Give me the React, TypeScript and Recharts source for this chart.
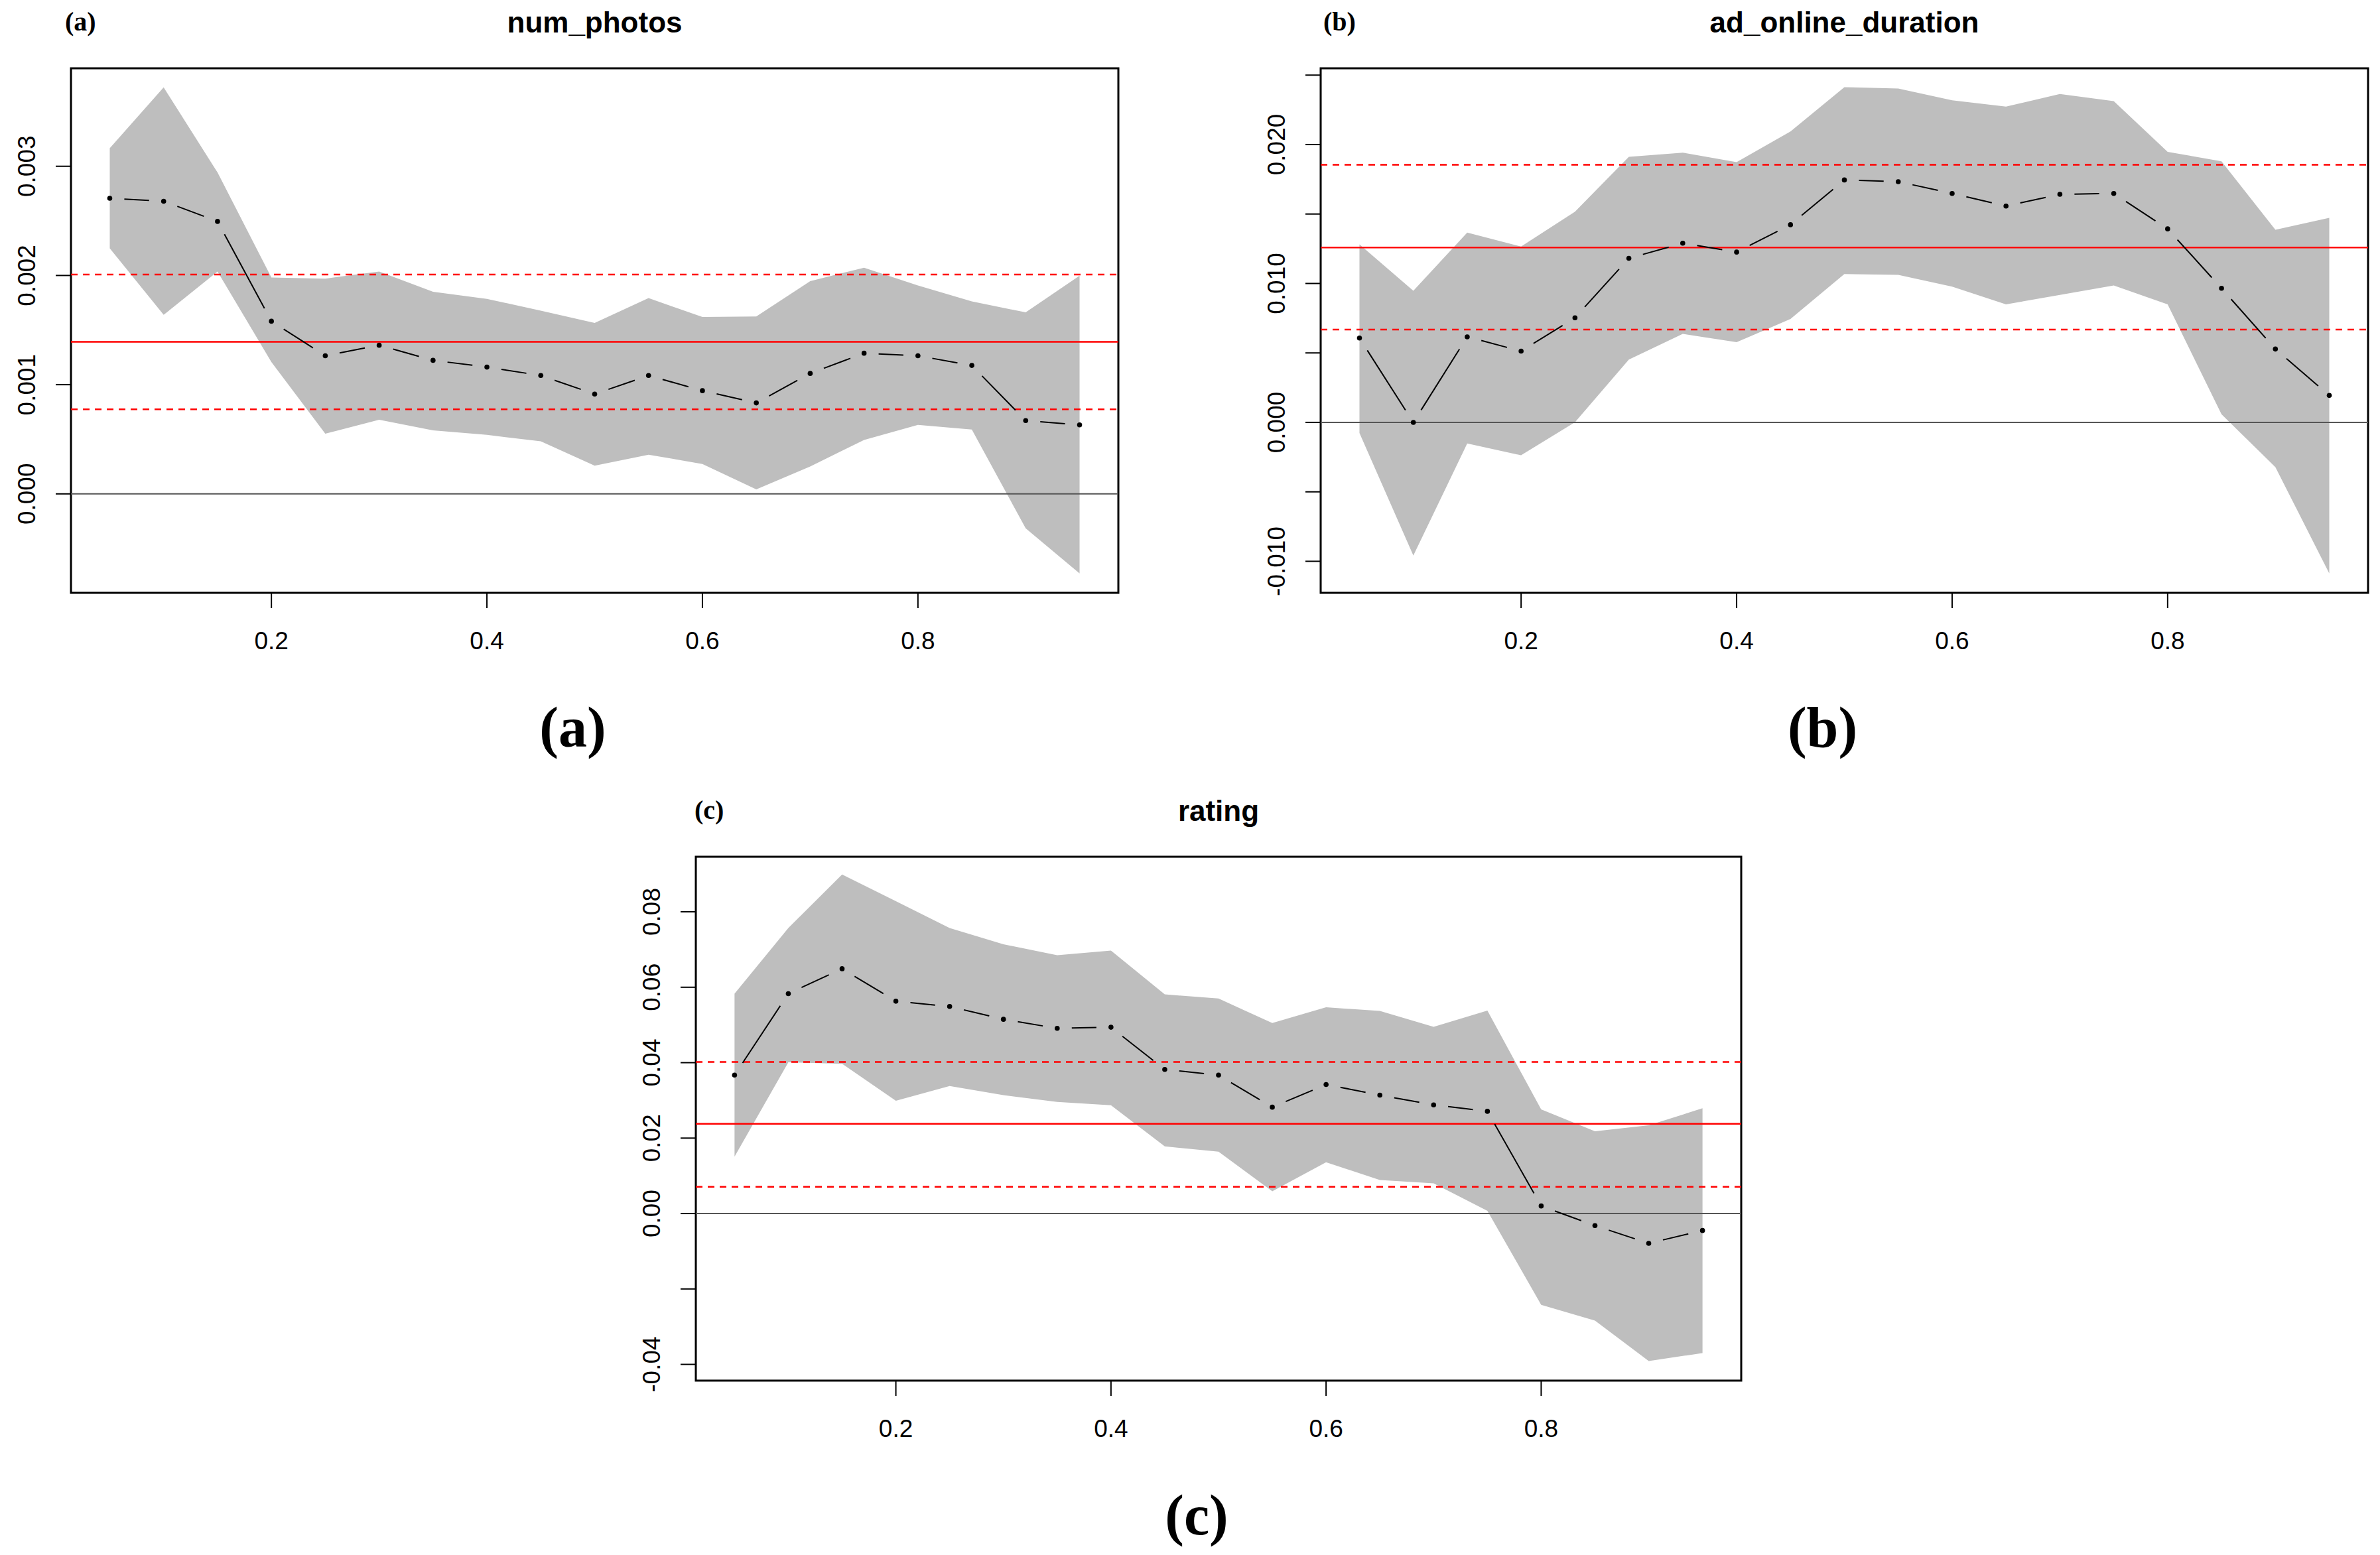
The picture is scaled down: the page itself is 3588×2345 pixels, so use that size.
import React from 'react';
import {
  ComposedChart,
  Area,
  Line,
  XAxis,
  YAxis,
  ReferenceLine,
  ReferenceArea,
} from 'recharts';

// quantile levels
const taus = [0.05, 0.1, 0.15, 0.2, 0.25, 0.3, 0.35, 0.4, 0.45, 0.5, 0.55, 0.6, 0.65, 0.7, 0.75, 0.8, 0.85, 0.9, 0.95];
const xTicks = [0.2, 0.4, 0.6, 0.8];

// (a) num_photos
const photosCoef = [0.002707, 0.00268, 0.002495, 0.001581, 0.001265, 0.001361, 0.001223, 0.001161, 0.001084, 0.000914, 0.001084, 0.000945, 0.000833, 0.001103, 0.001288, 0.001265, 0.001176, 0.000671, 0.000632];
const photosHi = [0.003166, 0.003722, 0.002943, 0.001982, 0.001971, 0.002036, 0.001851, 0.001786, 0.001678, 0.001566, 0.001793, 0.00162, 0.001624, 0.001948, 0.002071, 0.001909, 0.001762, 0.001662, 0.001998];
const photosLo = [0.002248, 0.001639, 0.002036, 0.001207, 0.000551, 0.000679, 0.000582, 0.00054, 0.000482, 0.000258, 0.000359, 0.000274, 0.000042, 0.000251, 0.000494, 0.000632, 0.00059, -0.000316, -0.000729];
const photosOls = [0.001392, 0.002009, 0.000775]; // estimate, upper, lower
const photosYTicks = [0, 0.001, 0.002, 0.003];
const photosYLabels = ['0.000', '0.001', '0.002', '0.003'];

// (b) ad_online_duration
const durCoef = [0.00607, 0.0, 0.00616, 0.00513, 0.00753, 0.01181, 0.0129, 0.01226, 0.01423, 0.01745, 0.01733, 0.01648, 0.01557, 0.01642, 0.01648, 0.01393, 0.00965, 0.00528, 0.00194];
const durHi = [0.01281, 0.00947, 0.01366, 0.01266, 0.01517, 0.01912, 0.01942, 0.01873, 0.02094, 0.02413, 0.02404, 0.02319, 0.02273, 0.02364, 0.02313, 0.01948, 0.01879, 0.01387, 0.01472];
const durLo = [-0.00076, -0.00959, -0.00152, -0.00237, 0.00001, 0.00452, 0.00637, 0.00577, 0.00744, 0.01068, 0.01062, 0.00977, 0.0085, 0.00917, 0.00986, 0.0085, 0.00058, -0.00322, -0.01087];
const durOls = [0.01259, 0.01854, 0.00668];
const durYTicks = [-0.01, -0.005, 0, 0.005, 0.01, 0.015, 0.02, 0.025];
const durYLabels = ['-0.010', '', '0.000', '', '0.010', '', '0.020', ''];

// (c) rating
const ratingCoef = [0.0367, 0.0583, 0.0649, 0.0563, 0.0549, 0.0515, 0.0491, 0.0494, 0.0382, 0.0367, 0.0282, 0.0342, 0.0314, 0.0288, 0.0271, 0.002, -0.0032, -0.0079, -0.0045];
const ratingHi = [0.0583, 0.0757, 0.0899, 0.0828, 0.0757, 0.0714, 0.0685, 0.0697, 0.0581, 0.057, 0.0505, 0.0547, 0.0537, 0.0495, 0.0538, 0.0276, 0.0218, 0.0234, 0.0279];
const ratingLo = [0.0151, 0.0401, 0.0397, 0.0299, 0.0338, 0.0314, 0.0296, 0.0287, 0.0178, 0.0164, 0.0059, 0.0136, 0.0089, 0.008, 0.0007, -0.0242, -0.0284, -0.0391, -0.037];
const ratingOls = [0.0238, 0.0402, 0.0071];
const ratingYTicks = [-0.04, -0.02, 0, 0.02, 0.04, 0.06, 0.08];
const ratingYLabels = ['-0.04', '', '0.00', '0.02', '0.04', '0.06', '0.08'];

const SANS = '"Liberation Sans", Arial, sans-serif';
const SERIF = '"Liberation Serif", "Times New Roman", serif';
const GAP = 22;
const Y_W = 110;
const X_H = 120;
const PAD = 12;

type PanelProps = {
  title: string;
  tag: string;
  tagX: number;
  box: { L: number; R: number; T: number; B: number };
  yDomain: [number, number];
  yTicks: number[];
  yLabels: string[];
  coef: number[];
  hi: number[];
  lo: number[];
  ols: number[];
};

// R type="b": points with gaps in the joining segments
const GapDot = (props: any) => {
  const { cx, cy, index, points } = props;
  const next = points ? points[index + 1] : null;
  let seg = null;
  if (next) {
    const dx = next.x - cx;
    const dy = next.y - cy;
    const len = Math.hypot(dx, dy);
    if (len > 2 * GAP) {
      const ux = dx / len;
      const uy = dy / len;
      seg = (
        <line
          x1={cx + ux * GAP}
          y1={cy + uy * GAP}
          x2={next.x - ux * GAP}
          y2={next.y - uy * GAP}
          stroke="#000"
          strokeWidth={2}
        />
      );
    }
  }
  return (
    <g key={`pt-${index}`}>
      {seg}
      <circle cx={cx} cy={cy} r={3.8} fill="#000" />
    </g>
  );
};

const makeYTick = (ticks: number[], labels: string[]) => (props: any) => {
  const { x, y, payload } = props;
  const i = ticks.findIndex((t) => Math.abs(t - payload.value) < 1e-9);
  const label = i >= 0 ? labels[i] : '';
  return (
    <text
      x={x}
      y={y}
      transform={`rotate(-90, ${x}, ${y})`}
      textAnchor="middle"
      fontSize={37}
      fontFamily={SANS}
      fill="#000"
    >
      {label}
    </text>
  );
};

const Panel = ({ box, yDomain, yTicks, yLabels, coef, hi, lo, ols }: PanelProps) => {
  const data = taus.map((t, i) => ({ tau: t, est: coef[i], band: [lo[i], hi[i]] }));
  const xDomain: [number, number] = [0.014, 0.986];
  const width = box.R - box.L + Y_W + PAD;
  const height = box.B - box.T + X_H + PAD;
  return (
    <div style={{ position: 'absolute', left: box.L - Y_W, top: box.T - PAD }}>
      <ComposedChart
        width={width}
        height={height}
        data={data}
        margin={{ top: PAD, right: PAD, left: 0, bottom: 0 }}
      >
        <XAxis
          dataKey="tau"
          type="number"
          domain={xDomain}
          allowDataOverflow
          ticks={xTicks}
          tickFormatter={(v: number) => v.toFixed(1)}
          height={X_H}
          tickSize={23}
          tickMargin={36}
          axisLine={false}
          tickLine={{ stroke: '#000', strokeWidth: 2 }}
          tick={{ fontSize: 37, fontFamily: SANS, fill: '#000' }}
        />
        <YAxis
          type="number"
          domain={yDomain}
          allowDataOverflow
          ticks={yTicks}
          width={Y_W}
          tickSize={23}
          tickMargin={31}
          axisLine={false}
          tickLine={{ stroke: '#000', strokeWidth: 2 }}
          tick={makeYTick(yTicks, yLabels)}
          interval={0}
        />
        <Area
          dataKey="band"
          type="linear"
          stroke="none"
          fill="#BEBEBE"
          fillOpacity={1}
          isAnimationActive={false}
          activeDot={false}
        />
        <ReferenceLine y={0} stroke="#555555" strokeWidth={2} />
        <ReferenceLine y={ols[0]} stroke="#FF0000" strokeWidth={2.5} />
        <ReferenceLine y={ols[1]} stroke="#FF0000" strokeWidth={2.5} strokeDasharray="10 8" />
        <ReferenceLine y={ols[2]} stroke="#FF0000" strokeWidth={2.5} strokeDasharray="10 8" />
        <Line
          dataKey="est"
          type="linear"
          stroke="none"
          dot={(p: any) => <GapDot {...p} key={`d-${p.index}`} />}
          activeDot={false}
          isAnimationActive={false}
        />
        <ReferenceArea
          x1={xDomain[0]}
          x2={xDomain[1]}
          y1={yDomain[0]}
          y2={yDomain[1]}
          fill="none"
          stroke="#000"
          strokeWidth={3}
          fillOpacity={0}
        />
      </ComposedChart>
    </div>
  );
};

const panels: PanelProps[] = [
  {
    title: 'num_photos',
    tag: '(a)',
    tagX: 98,
    box: { L: 107, R: 1686, T: 103, B: 894 },
    yDomain: [-0.000906, 0.003897],
    yTicks: photosYTicks,
    yLabels: photosYLabels,
    coef: photosCoef,
    hi: photosHi,
    lo: photosLo,
    ols: photosOls,
  },
  {
    title: 'ad_online_duration',
    tag: '(b)',
    tagX: 1995,
    box: { L: 1991, R: 3570, T: 103, B: 894 },
    yDomain: [-0.01227, 0.02549],
    yTicks: durYTicks,
    yLabels: durYLabels,
    coef: durCoef,
    hi: durHi,
    lo: durLo,
    ols: durOls,
  },
  {
    title: 'rating',
    tag: '(c)',
    tagX: 1047,
    box: { L: 1049, R: 2625, T: 1292, B: 2082 },
    yDomain: [-0.0443, 0.0946],
    yTicks: ratingYTicks,
    yLabels: ratingYLabels,
    coef: ratingCoef,
    hi: ratingHi,
    lo: ratingLo,
    ols: ratingOls,
  },
];

export default function App() {
  return (
    <div
      style={{
        position: 'absolute',
        left: 0,
        top: 0,
        width: 3588,
        height: 2345,
        background: '#fff',
        overflow: 'hidden',
      }}
    >
      {panels.map((p) => (
        <Panel key={p.title} {...p} />
      ))}
      <svg
        width={3588}
        height={2345}
        style={{ position: 'absolute', left: 0, top: 0, pointerEvents: 'none' }}
      >
        {panels.map((p) => {
          const cx = (p.box.L + p.box.R) / 2;
          return (
            <g key={`lbl-${p.title}`}>
              <text
                x={cx}
                y={p.box.T - 54}
                textAnchor="middle"
                fontSize={44}
                fontWeight="bold"
                fontFamily={SANS}
                fill="#000"
              >
                {p.title}
              </text>
              <text
                x={p.tagX}
                y={p.box.T - 57}
                fontSize={40}
                fontWeight="bold"
                fontFamily={SERIF}
                fill="#000"
              >
                {p.tag}
              </text>
              <text
                x={cx - 33}
                y={p.box.B + 232}
                textAnchor="middle"
                fontSize={86}
                fontWeight="bold"
                fontFamily={SERIF}
                fill="#000"
              >
                {p.tag}
              </text>
            </g>
          );
        })}
      </svg>
    </div>
  );
}
